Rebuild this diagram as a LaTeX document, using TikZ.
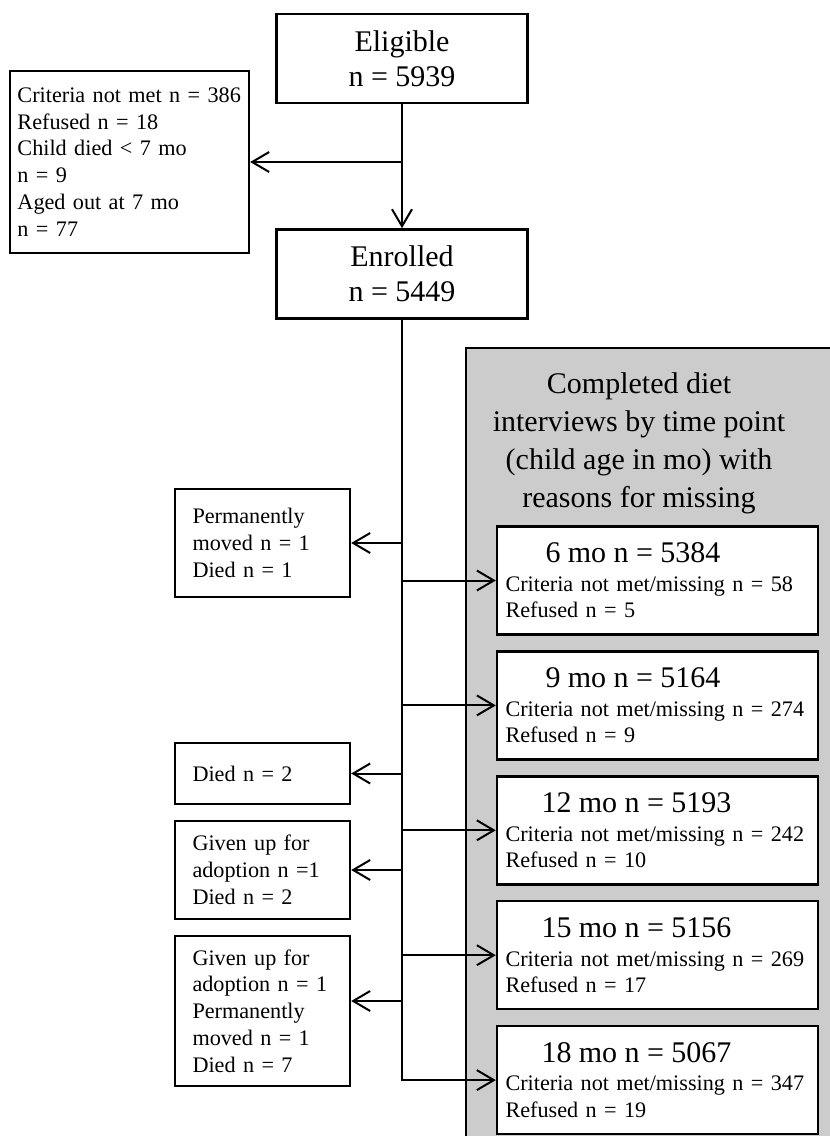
\documentclass[tikz,border=0pt]{standalone}
\usepackage{fontspec}
\setmainfont{Liberation Serif}
\usetikzlibrary{arrows.meta, positioning}

\begin{document}
\begin{tikzpicture}[
        x=0.5pt, y=-0.5pt,
        box/.style={draw, line width=1.2pt, rectangle, minimum width=125.5pt, minimum height=44.5pt, align=center, font=\fontsize{15}{17.5}\selectfont},
        side/.style={draw, line width=1.2pt, rectangle, minimum width=87.5pt, text width=70pt, inner xsep=0pt, align=left, font=\fontsize{11.1}{13.4}\selectfont},
        visit/.style={draw, line width=1.2pt, rectangle, fill=white, minimum width=160.5pt, minimum height=54pt, text width=152pt, inner xsep=0pt, align=left, font=\fontsize{11.1}{13.2}\selectfont},
        line/.style={line width=1pt},
        >={Straight Barb[length=8.5pt, width=10pt]},
    ]
        \useasboundingbox (0,0) rectangle (830,1136);
        \fill[black!20] (466,348) rectangle (840,1146);
        \draw[line width=1.2pt] (466,1146) |- (840,348);
        \node[align=center, font=\fontsize{15}{19}\selectfont] (ttl) at (639,443) {Completed diet\\interviews by time point\\(child age in mo) with\\reasons for missing};

        \node[box] (elig) at (402,58.5) {Eligible\\n = 5939};
        \node[box, below=62pt of elig] (enr) {Enrolled\\n = 5449};
        \node[side, minimum width=119.5pt, text width=112pt, minimum height=91pt] (excl) at (129.5,162) {Criteria not met n = 386\\Refused n = 18\\Child died < 7 mo\\n = 9\\Aged out at 7 mo\\n = 77};

        \node[visit] (m6) at (657.5,580.5) {\hspace*{20pt}{\fontsize{15}{17.5}\selectfont 6 mo n = 5384}\\[1pt]Criteria not met/missing n = 58\\Refused n = 5};
        \node[visit, below=7.25pt of m6]  (m9)  {\hspace*{20pt}{\fontsize{15}{17.5}\selectfont 9 mo n = 5164}\\[1pt]Criteria not met/missing n = 274\\Refused n = 9};
        \node[visit, below=7.25pt of m9]  (m12) {\hspace*{18pt}{\fontsize{15}{17.5}\selectfont 12 mo n = 5193}\\[1pt]Criteria not met/missing n = 242\\Refused n = 10};
        \node[visit, below=7.25pt of m12] (m15) {\hspace*{18pt}{\fontsize{15}{17.5}\selectfont 15 mo n = 5156}\\[1pt]Criteria not met/missing n = 269\\Refused n = 17};
        \node[visit, below=7.25pt of m15] (m18) {\hspace*{18pt}{\fontsize{15}{17.5}\selectfont 18 mo n = 5067}\\[1pt]Criteria not met/missing n = 347\\Refused n = 19};

        \node[side, minimum height=54pt]   (moved1) at (262.5,543)    {Permanently\\moved n = 1\\Died n = 1};
        \node[side, minimum height=30.5pt] (died2)  at (262.5,773.5)  {Died n = 2};
        \node[side, minimum height=49pt]   (adopt1) at (262.5,870)    {Given up for\\adoption n =1\\Died n = 2};
        \node[side, minimum height=75pt]   (adopt2) at (262.5,1011)   {Given up for\\adoption n = 1\\Permanently\\moved n = 1\\Died n = 7};

        \draw[line, ->] (elig) -- (enr);
        \draw[line, ->] (elig.south |- excl.east) -- (excl.east);
        \draw[line, ->] (enr.south) |- (m18.west);
        \draw[line, ->] (enr.south |- m6.west)  -- (m6.west);
        \draw[line, ->] (enr.south |- m9.west)  -- (m9.west);
        \draw[line, ->] (enr.south |- m12.west) -- (m12.west);
        \draw[line, ->] (enr.south |- m15.west) -- (m15.west);
        \draw[line, ->] (enr.south |- moved1.east) -- (moved1.east);
        \draw[line, ->] (enr.south |- died2.east)  -- (died2.east);
        \draw[line, ->] (enr.south |- adopt1.east) -- (adopt1.east);
        \draw[line, ->] ([yshift=5pt]adopt2.east -| enr.south) -- ([yshift=5pt]adopt2.east);
\end{tikzpicture}
\end{document}
